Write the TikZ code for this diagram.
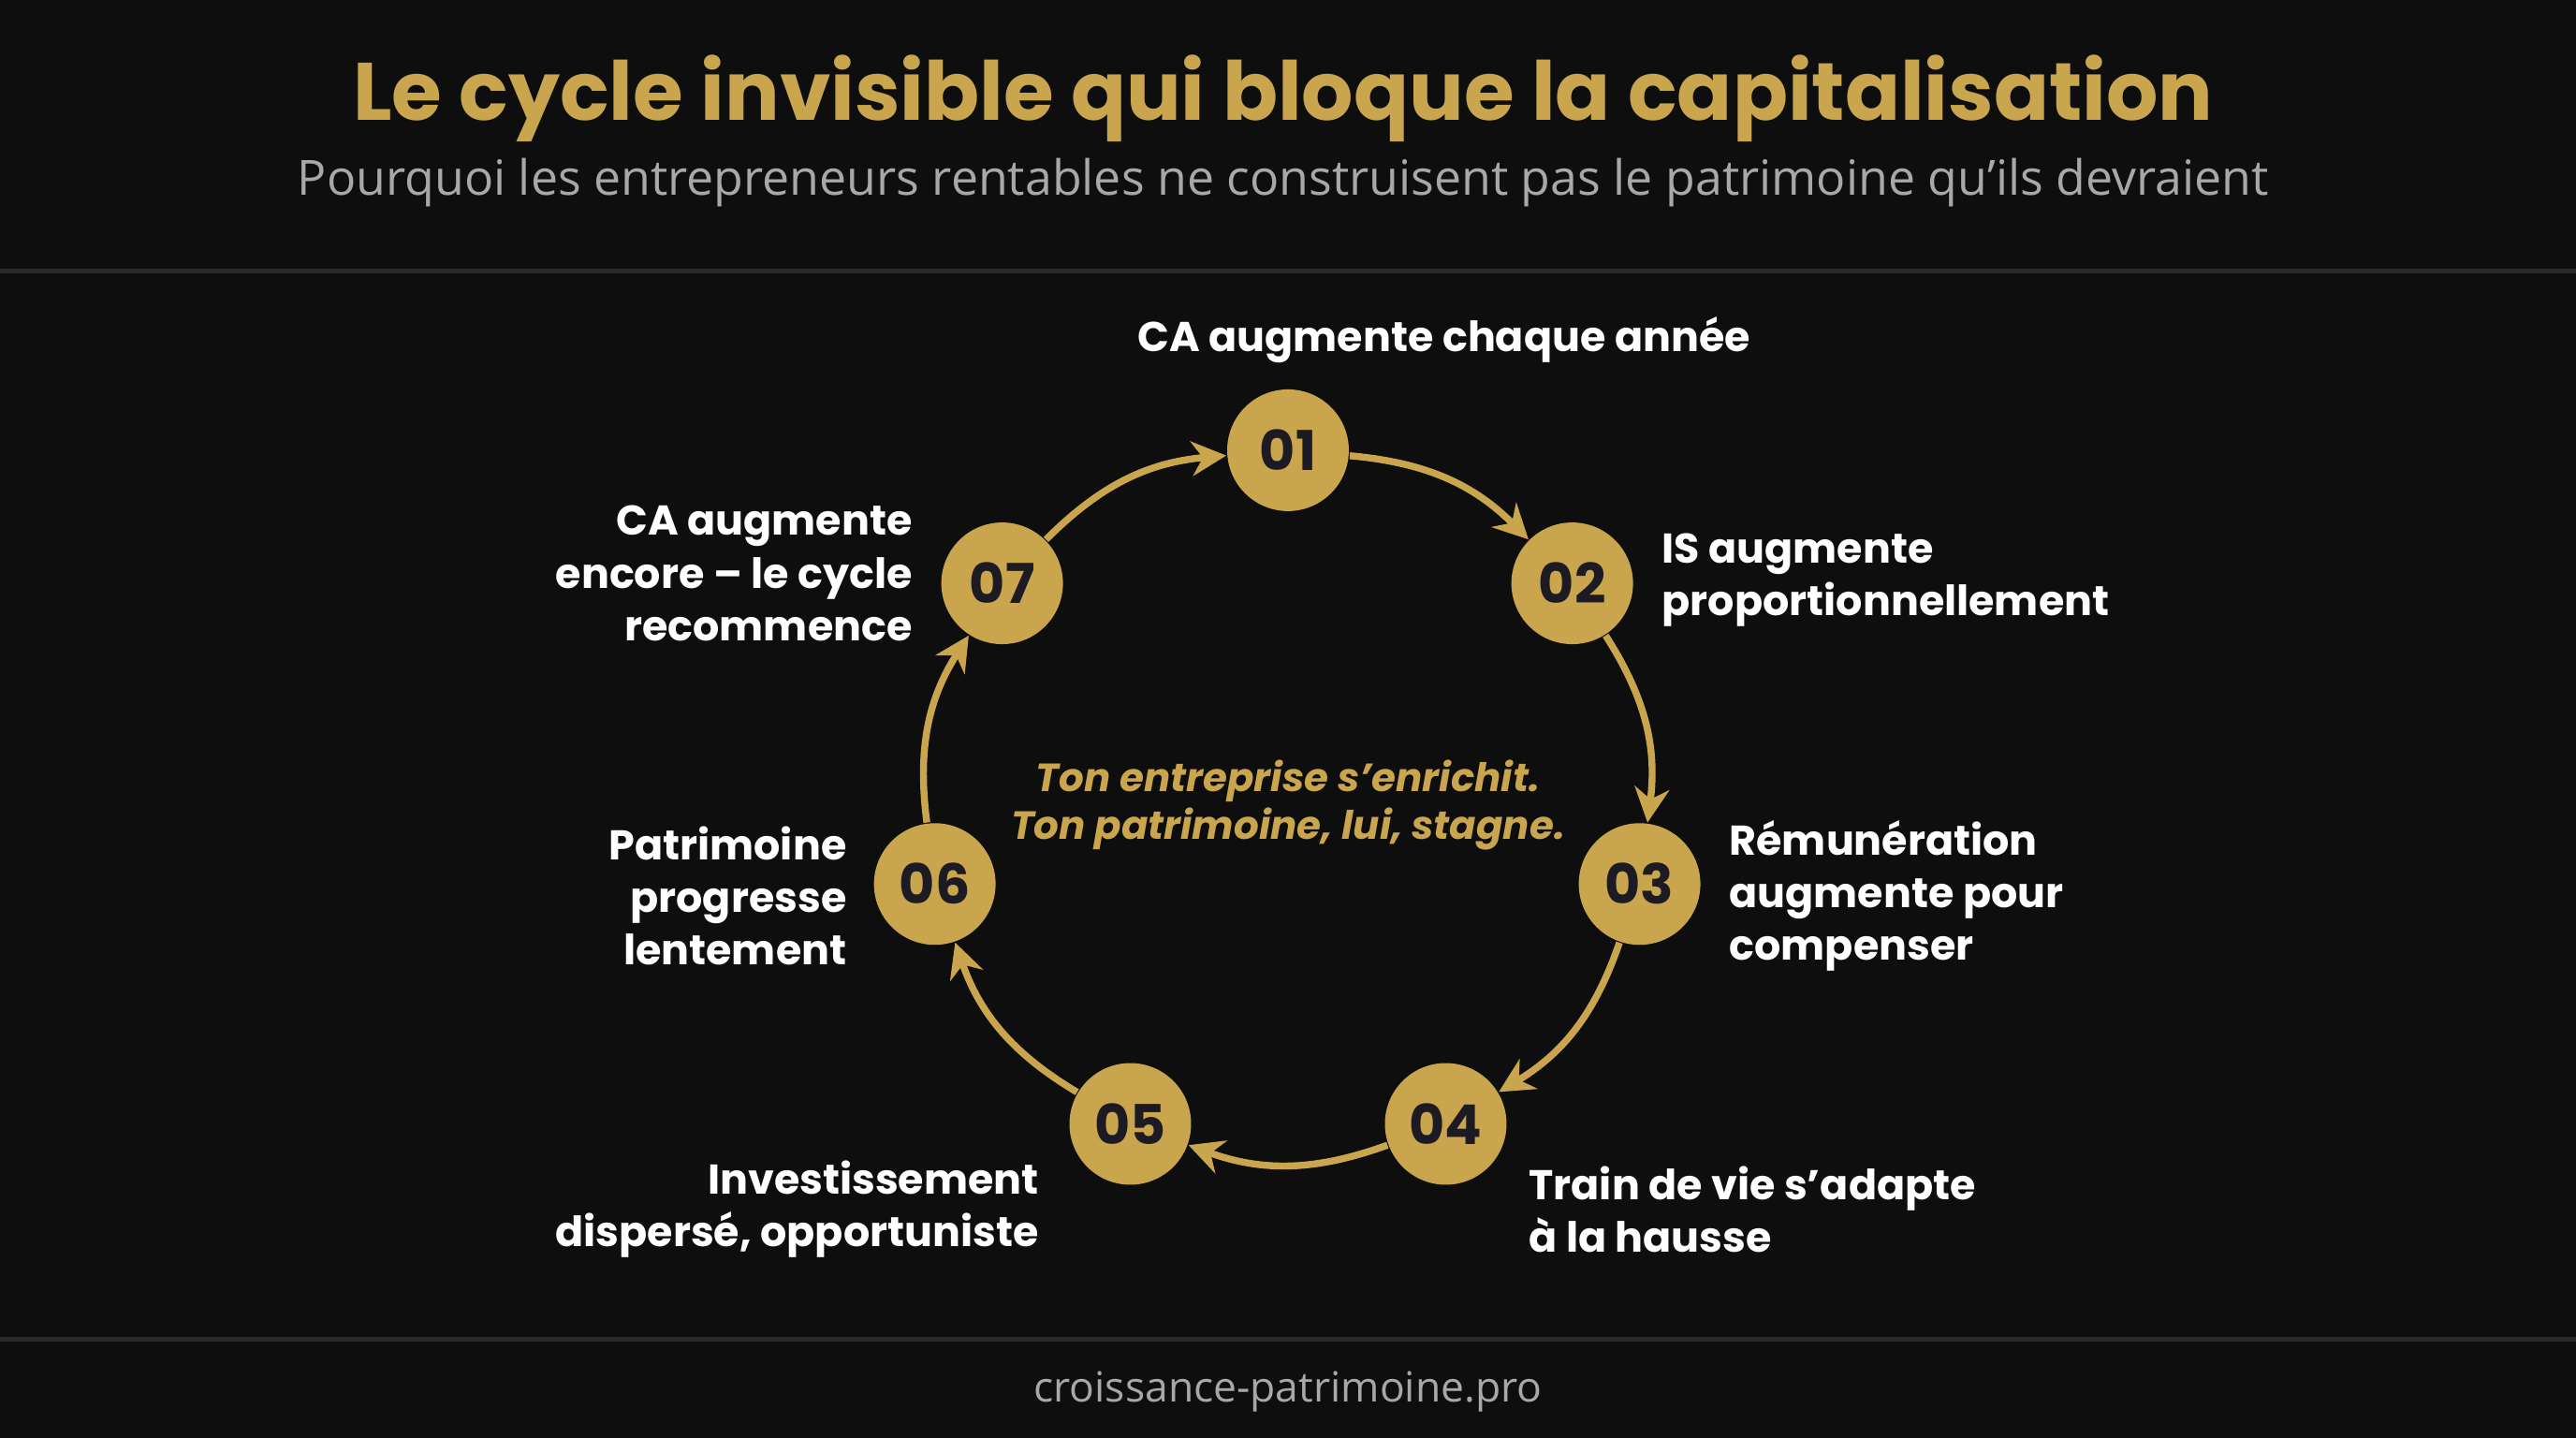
\documentclass[tikz,border=0pt]{standalone}
\usepackage{fontspec}
\setmainfont{Poppins}
\newfontfamily\subfont{Open Sans}
\usetikzlibrary{arrows.meta}
\definecolor{bgdark}{HTML}{0E0E0E}
\definecolor{gold}{HTML}{C9A54E}
\definecolor{ink}{HTML}{1C1A22}
\definecolor{rule}{HTML}{2A2A2A}
\definecolor{greytext}{HTML}{A8A8A8}
\begin{document}
\begin{tikzpicture}[x=0.01cm,y=-0.01cm]
\tikzstyle{stepdot}=[circle,fill=gold,minimum size=0.74cm,inner sep=0pt,text=ink,font=\fontsize{9.5}{10}\selectfont\bfseries]
\tikzstyle{cycle} = [draw=gold,line width=1.2pt,-{Stealth[length=6pt,width=6pt]}]
\tikzstyle{label} = [text=white,inner sep=0pt,font=\fontsize{7.2}{9.1}\selectfont\bfseries]
\fill[bgdark] (0,0) rectangle (1568,875);
\useasboundingbox (0,0) rectangle (1568,875);
\draw[rule,line width=0.8pt] (0,165) -- (1568,165);
\draw[rule,line width=0.8pt] (0,815) -- (1568,815);
\node[text=gold,font=\fontsize{14.1}{16}\selectfont\bfseries] (title) at (781,60) {Le cycle invisible qui bloque la capitalisation};
\node[text=greytext,font=\subfont\fontsize{8.4}{10}\selectfont] (subtitle) at (781,111) {Pourquoi les entrepreneurs rentables ne construisent pas le patrimoine qu’ils devraient};
\node[text=greytext,font=\subfont\fontsize{7.2}{9}\selectfont] (footer) at (784,847) {croissance-patrimoine.pro};
% cycle steps
\node[stepdot] (1) at (784,274) {01};
\node[stepdot] (2) at (957,355) {02};
\node[stepdot] (3) at (998,538) {03};
\node[stepdot] (4) at (880,684) {04};
\node[stepdot] (5) at (688,684) {05};
\node[stepdot] (6) at (569,538) {06};
\node[stepdot] (7) at (610,355) {07};
\path[cycle] (1) to[bend left=20] (2);
\path[cycle] (2) to[bend left=20] (3);
\path[cycle] (3) to[bend left=20] (4);
\path[cycle] (4) to[bend left=20] (5);
\path[cycle] (5) to[bend left=20] (6);
\path[cycle] (6) to[bend left=20] (7);
\path[cycle] (7) to[bend left=20] (1);
% labels
\node[label] (l1) at (879,207) {CA augmente chaque année};
\node[label,anchor=west,align=left] (l2) at (1011,353) {IS augmente\\proportionnellement};
\node[label,anchor=west,align=left] (l3) at (1052,545) {Rémunération\\augmente pour\\compenser};
\node[label,anchor=west,align=left] (l4) at (930,736) {Train de vie s’adapte\\à la hausse};
\node[label,anchor=east,align=right] (l5) at (633,736) {Investissement\\dispersé, opportuniste};
\node[label,anchor=east,align=right] (l6) at (516,545) {Patrimoine\\progresse\\lentement};
\node[label,anchor=east,align=right] (l7) at (556,349) {CA augmente\\encore – le cycle\\recommence};
\node[text=gold,align=center,font=\fontsize{6.8}{8.3}\selectfont\bfseries\itshape] (centre) at (784,490) {Ton entreprise s’enrichit.\\Ton patrimoine, lui, stagne.};
\end{tikzpicture}
\end{document}
